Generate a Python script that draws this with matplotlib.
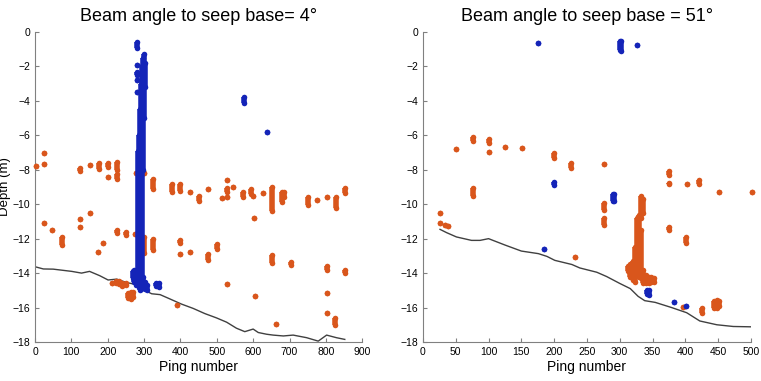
import numpy as np
import matplotlib.pyplot as plt

plt.rcParams['font.family'] = ['Liberation Sans', 'DejaVu Sans']

BLUE = '#1424b8'
ORANGE = '#d9561c'

# detections: (ping, top depth, bottom depth)
left_blue = [
    (282, -6.9, -14.3), (285, -6.0, -14.8), (288, -4.5, -15.0), (291, -3.0, -14.9),
    (294, -2.0, -14.5), (297, -1.5, -8.0), (300, -1.3, -5.0), (302, -1.8, -3.2),
    (269, -13.9, -14.3), (273, -13.8, -14.5), (277, -13.9, -14.7), (298, -14.2, -14.8),
    (303, -14.5, -14.9), (308, -14.7, -15.0), (334, -14.55, -14.75), (340, -14.6, -14.8),
    (280, -0.6, -0.9), (280, -1.9, -1.9), (280, -2.3, -2.5), (280, -2.8, -2.8),
    (280, -3.5, -3.5), (575, -3.8, -4.1), (638, -5.8, -5.8),
]
left_orange = [
    (2, -7.8, -7.8), (24, -7.05, -7.05), (24, -7.65, -7.65), (124, -7.9, -8.1),
    (150, -7.75, -7.75), (175, -7.6, -7.95), (200, -7.6, -7.85), (200, -8.4, -8.4),
    (225, -7.55, -8.0), (225, -8.25, -8.55), (277, -8.2, -8.2), (301, -8.2, -8.2),
    (325, -8.55, -9.1), (376, -8.8, -9.3), (400, -8.8, -9.25), (426, -9.3, -9.3),
    (451, -9.5, -9.8), (477, -9.14, -9.14), (513, -9.66, -9.66), (527, -8.6, -8.6),
    (527, -9.05, -9.3), (527, -9.6, -9.6), (545, -8.98, -8.98), (573, -9.27, -9.56),
    (593, -9.14, -9.4), (600, -9.5, -9.5), (603, -10.82, -10.82), (628, -9.36, -9.36),
    (651, -9.0, -10.4), (678, -9.3, -9.9), (685, -9.3, -9.6), (752, -9.56, -10.05),
    (776, -9.76, -9.76), (802, -9.56, -9.56), (828, -9.56, -10.24), (852, -9.08, -9.37),
    (24, -11.07, -11.07), (48, -11.5, -11.5), (74, -11.9, -12.35), (124, -10.88, -10.88),
    (124, -11.3, -11.3), (150, -10.53, -10.53), (174, -12.78, -12.78), (188, -12.28, -12.28),
    (225, -11.48, -11.7), (250, -11.6, -11.78), (276, -11.72, -11.72), (301, -11.9, -12.85),
    (325, -12.0, -12.65), (400, -12.08, -12.27), (400, -12.9, -12.9), (426, -12.76, -12.76),
    (476, -12.88, -13.22), (501, -12.3, -12.6), (527, -14.63, -14.63), (605, -15.33, -15.33),
    (651, -12.95, -13.43), (663, -16.98, -16.98), (704, -13.34, -13.53), (802, -13.6, -13.8),
    (802, -15.14, -15.14), (802, -16.34, -16.34), (825, -16.63, -17.0), (852, -13.8, -13.98),
    (213, -14.55, -14.6), (222, -14.45, -14.6), (230, -14.45, -14.65), (240, -14.6, -14.75),
    (250, -14.55, -14.7), (256, -15.15, -15.45), (263, -15.1, -15.5), (270, -15.1, -15.4),
    (390, -15.85, -15.85),
]
left_seabed_ping = [0, 23, 50, 101, 128, 150, 178, 201, 225, 252, 275, 298, 321, 344,
                    371, 403, 435, 467, 499, 527, 554, 577, 600, 614, 637, 655, 683,
                    710, 747, 779, 802, 829, 852]
left_seabed_depth = [-13.63, -13.76, -13.77, -13.9, -14.0, -13.9, -14.15, -14.4, -14.35,
                     -14.55, -14.65, -14.96, -15.2, -15.25, -15.5, -15.8, -16.05, -16.35,
                     -16.6, -16.85, -17.2, -17.4, -17.25, -17.45, -17.55, -17.6, -17.65,
                     -17.6, -17.75, -17.95, -17.6, -17.75, -17.85]

right_blue = [
    (176, -0.62, -0.62), (300, -0.5, -1.05), (302, -0.5, -1.1), (327, -0.75, -0.75),
    (199, -8.7, -8.9), (185, -12.62, -12.62), (289, -9.4, -9.82), (291, -9.4, -9.8),
    (341, -15.0, -15.2), (345, -15.0, -15.25), (382, -15.7, -15.7), (401, -15.9, -15.9),
]
right_orange = [
    (50, -6.8, -6.8), (76, -6.1, -6.35), (100, -6.2, -6.45), (100, -6.95, -6.95),
    (125, -6.66, -6.66), (151, -6.73, -6.73), (200, -7.05, -7.33), (225, -7.6, -7.9),
    (276, -7.67, -7.67), (375, -8.1, -8.3), (375, -8.75, -8.8), (402, -8.83, -8.83),
    (421, -8.6, -8.8), (451, -9.27, -9.27), (501, -9.27, -9.27), (76, -9.08, -9.52),
    (26, -10.49, -10.49), (26, -11.1, -11.1), (34, -11.22, -11.22), (38, -11.25, -11.25),
    (232, -13.08, -13.08), (276, -9.95, -10.34), (276, -10.82, -11.2), (375, -11.3, -11.5),
    (401, -11.9, -12.27), (396, -15.95, -15.95), (426, -16.05, -16.3), (444, -15.6, -16.0),
    (448, -15.56, -16.05), (452, -15.6, -15.9),
    (333, -9.5, -10.8), (336, -9.7, -10.5), (326, -10.8, -13.8), (329, -10.6, -14.2),
    (332, -11.5, -14.3), (312, -13.6, -13.9), (316, -13.5, -14.2), (320, -13.3, -14.4),
    (323, -12.5, -14.5), (336, -13.8, -14.6), (340, -14.1, -14.6), (344, -14.2, -14.6),
    (348, -14.2, -14.5), (352, -14.3, -14.5),
]
right_seabed_ping = [26, 36, 51, 74, 87, 100, 125, 150, 176, 189, 201, 227, 239, 265,
                     280, 300, 316, 328, 338, 354, 379, 402, 422, 448, 473, 501]
right_seabed_depth = [-11.46, -11.65, -11.9, -12.1, -12.1, -12.0, -12.37, -12.72, -12.87,
                      -13.03, -13.26, -13.5, -13.7, -13.95, -14.2, -14.6, -14.9, -15.35,
                      -15.6, -15.7, -16.0, -16.3, -16.78, -17.0, -17.1, -17.12]


def draw_hits(ax, hits, color):
    ping = [h[0] for h in hits]
    top = [h[1] for h in hits]
    bot = [h[2] for h in hits]
    ax.vlines(ping, bot, top, colors=color, linewidth=4, zorder=3, clip_on=False)
    ax.scatter(ping + ping, top + bot, s=16, color=color, linewidths=0, zorder=3, clip_on=False)


def style(ax, xmax, xstep):
    ax.set_xlim(0, xmax)
    ax.set_ylim(-18, 0)
    ax.set_xticks(np.arange(0, xmax + 1, xstep))
    ax.set_yticks(np.arange(-18, 1, 2))
    for s in ['top', 'right']:
        ax.spines[s].set_visible(False)
    for s in ['left', 'bottom']:
        ax.spines[s].set_color('#808080')
        ax.spines[s].set_linewidth(0.8)
    ax.tick_params(direction='in', length=3, color='#808080', labelsize=7.5, pad=3.5)
    ax.set_xlabel('Ping number', fontsize=10, labelpad=2)


fig = plt.figure(figsize=(7.61, 3.81), dpi=100)
ax1 = fig.add_axes([0.046, 0.1024, 0.430, 0.8136])
ax2 = fig.add_axes([0.5558, 0.1024, 0.431, 0.8136])

ax1.plot(left_seabed_ping, left_seabed_depth, color='#404040', lw=1.0, zorder=2)
draw_hits(ax1, left_orange, ORANGE)
draw_hits(ax1, left_blue, BLUE)
style(ax1, 900, 100)
ax1.set_ylabel('Depth (m)', fontsize=9.5)
ax1.yaxis.set_label_coords(-0.072, 0.5)
ax1.set_title('Beam angle to seep base= 4°', fontsize=13, pad=8)

ax2.plot(right_seabed_ping, right_seabed_depth, color='#404040', lw=1.0, zorder=2)
draw_hits(ax2, right_orange, ORANGE)
draw_hits(ax2, right_blue, BLUE)
style(ax2, 500, 50)
ax2.set_title('Beam angle to seep base = 51°', fontsize=13, pad=8)

fig.savefig('out.png', dpi=100)
